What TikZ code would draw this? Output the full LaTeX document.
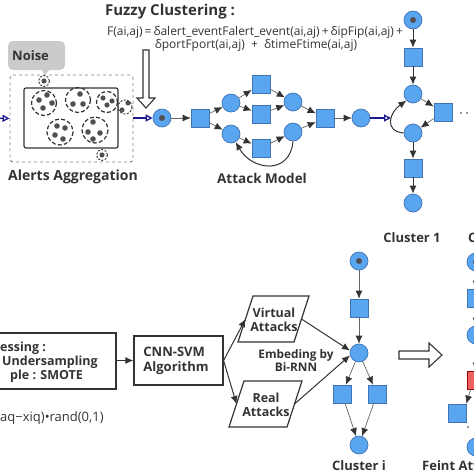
\documentclass[tikz,border=0pt]{standalone}
\usepackage{fontspec}
\setmainfont{Open Sans}
\usetikzlibrary{arrows.meta}
\definecolor{nfill}{HTML}{5AA5F0}
\definecolor{nedge}{HTML}{3F74B5}
\definecolor{navyc}{HTML}{1A1A8C}
\definecolor{lgray}{HTML}{666666}
\definecolor{dgray}{HTML}{333333}
\definecolor{noisebg}{HTML}{CBCBCB}
\definecolor{redfill}{HTML}{F06262}
\definecolor{dotc}{HTML}{505050}
\tikzset{
  place/.style={circle,draw=nedge,fill=nfill,minimum size=18pt,inner sep=0pt,line width=0.7pt},
  startp/.style={place,path picture={\fill[dotc] (path picture bounding box.center) circle (3pt);}},
  trans/.style={rectangle,draw=nedge,fill=nfill,minimum size=18pt,inner sep=0pt,line width=0.7pt},
  redtrans/.style={trans,fill=redfill,draw=red!60!black},
  arr/.style={draw=lgray,line width=0.7pt,-{Latex[length=8pt,width=7pt,color=dgray]}},
  barr/.style={draw=dgray,line width=1pt,-{Latex[length=8pt,width=7pt,color=dgray]}},
  navyarr/.style={draw=navyc,line width=1.3pt,-{Triangle[open,length=7pt,width=7pt]}},
  lab/.style={font=\bfseries\fontsize{13}{15}\selectfont,text=dgray,inner sep=0pt},
  mlab/.style={font=\bfseries\fontsize{12.5}{14}\selectfont,text=dgray,inner sep=0pt,align=center},
  formula/.style={font=\fontsize{12}{13}\selectfont,text=dgray,inner sep=0pt},
  clus/.style={draw=dgray,line width=1.2pt,dash pattern=on 4pt off 2.2pt},
  pt/.style={fill=dotc},
  hollow/.style={draw=dgray,line width=1.1pt,fill=white},
  boxn/.style={draw=dgray,line width=1.2pt,inner sep=0pt},
  paraline/.style={draw=dgray,line width=1.2pt,line join=miter}
}
\begin{document}
\begin{tikzpicture}[x=1pt,y=-1pt]
\useasboundingbox (0,0) rectangle (474,474);
\clip (0,0) rectangle (474,474);

% ---------- titles and formula ----------
\node[lab,font=\bfseries\fontsize{15}{17}\selectfont] (fz) at (170,12) {Fuzzy Clustering :};
\node[formula] (f1) at (255,32) {F(ai,aj)\,=\,δalert\_eventFalert\_event(ai,aj)\,+\,δipFip(ai,aj)\,+};
\node[formula] (f2) at (256,45) {δportFport(ai,aj) \ + \ δtimeFtime(ai,aj)};

% ---------- alerts aggregation ----------
\node[draw=gray,dashed,line width=0.9pt,rounded corners=3pt,minimum width=123pt,minimum height=87pt,inner sep=0pt] (agg) at (71.5,118.5) {};
\node[boxn,rounded corners=2pt,minimum width=94pt,minimum height=60pt] (inbox) at (71,118) {};
\node[fill=noisebg,rounded corners=5pt,minimum width=57pt,minimum height=29pt,inner sep=0pt] (noise) at (36.5,55.5) {};
\node[lab,anchor=west] (noisel) at (12,55.5) {Noise};
\fill[noisebg] (41,69) -- (50,69) -- (45,75) -- cycle;

% cluster circles
\draw[clus] (44,103) circle (12.5);
\foreach \p in {(39,100),(47,95),(52,103),(43,108)} \fill[pt] \p circle (2.8);
\draw[clus] (78,100) circle (12.5);
\foreach \p in {(80,94),(73,104),(83,104)} \fill[pt] \p circle (2.8);
\draw[clus] (107,102) circle (10.5);
\foreach \p in {(103,98),(107,105),(112,101)} \fill[pt] \p circle (2.6);
\draw[clus] (60,132) circle (13);
\foreach \p in {(57,126),(65,128),(55,135),(63,139)} \fill[pt] \p circle (2.8);
\draw[clus] (95,130) circle (13);
\foreach \p in {(93,122),(88,132),(100,133),(93,139)} \fill[pt] \p circle (2.8);
% noise points
\draw[clus,line width=0.9pt,dash pattern=on 2pt off 1.5pt] (44,81) circle (5.5);
\fill[pt] (44,81) circle (2.6);
\draw[clus,line width=0.9pt,dash pattern=on 2pt off 1.5pt] (102,155) circle (5.5);
\fill[pt] (102,155) circle (2.6);
\draw[clus,line width=0.9pt,dash pattern=on 2pt off 1.5pt] (125,107) circle (7);
\fill[pt] (128,103) circle (2.6);
\fill[pt] (122,110) circle (2.6);

\node[lab,font=\bfseries\fontsize{14}{16}\selectfont] (aggl) at (73,177) {Alerts Aggregation};
\coordinate (lin) at (-6,118);
\draw[navyarr] (lin) -- (agg.west);

% hollow down arrow
\draw[hollow,line join=miter] (143,50) -- (149,50) -- (149,98) -- (155,98) -- (146,108) -- (137,98) -- (143,98) -- cycle;

% ---------- attack model ----------
\node[startp] (s0) at (162,118) {};
\node[trans] (t1) at (200,118) {};
\node[place] (p1) at (231,103) {};
\node[place] (p2) at (231,134) {};
\node[trans] (t2) at (261,84) {};
\node[trans] (t3) at (261,114) {};
\node[trans] (t4) at (261,148) {};
\node[place] (p3) at (293,102) {};
\node[place] (p4) at (293,132) {};
\node[trans] (t5) at (325,118) {};
\node[place] (p5) at (361,118) {};
\draw[navyarr] (agg.east |- s0) -- (s0);
\draw[arr] (s0) -- (t1);
\draw[arr] (t1) -- (p1);
\draw[arr] (t1) -- (p2);
\draw[arr] (p1) -- (t2);
\draw[arr] (p1) -- (t3);
\draw[arr] (p2) -- (t4);
\draw[arr] (t2) -- (p3);
\draw[arr] (t3) -- (p3);
\draw[arr] (t4) -- (p4);
\draw[arr] (p3) -- (t5);
\draw[arr] (p4) -- (t5);
\draw[arr] (t5) -- (p5);
\draw[arr,draw=dgray,line width=1pt] (p4.south) to[out=-95,in=-60,looseness=1.5] (p2.-60);
\node[lab,font=\bfseries\fontsize{13.5}{16}\selectfont] (aml) at (262,178) {Attack Model};
\coordinate (c1in) at (391,118);
\draw[navyarr] (p5) -- (c1in);

% ---------- cluster 1 ----------
\node[startp] (c1s) at (413,20) {};
\node[trans] (c1t1) at (413,57) {};
\node[place] (c1p1) at (413,94) {};
\node[trans] (c1t2) at (443,112) {};
\node[place] (c1p2) at (413,133) {};
\node[trans] (c1t3) at (413,168) {};
\node[place] (c1p3) at (413,203) {};
\draw[barr] (c1s) -- (c1t1);
\draw[barr] (c1t1) -- (c1p1);
\draw[arr] (c1p1) -- (c1t2);
\draw[arr] (c1t2) -- (c1p2);
\draw[barr] (c1p2) -- (c1t3);
\draw[barr] (c1t3) -- (c1p3);
\draw[arr,draw=dgray,line width=1pt] (c1p2.west) to[out=175,in=215,looseness=1.6] (c1p1.-135);
\fill[dgray] (461,113) circle (0.9) (467,113) circle (0.9);
\node[lab] (c1l) at (412,238) {Cluster 1};
\node[lab,anchor=west] (cnl) at (468,238) {C};

% ---------- bottom: preprocessing ----------
\node[boxn,minimum width=122pt,minimum height=56pt] (pre) at (55,361) {};
\node[mlab,anchor=west] (pre1) at (0,348) {essing :};
\node[mlab,anchor=west] (pre2) at (2,362) {Undersampling};
\node[mlab,anchor=west] (pre3) at (10,376) {ple : SMOTE};
\node[formula,font=\fontsize{13}{14}\selectfont,anchor=west] (smf) at (0,418) {aq−xiq)•rand(0,1)};
\node[boxn,minimum width=89pt,minimum height=49pt] (cnn) at (178.5,360.5) {};
\node[mlab,align=left,font=\bfseries\fontsize{13}{15}\selectfont] (cnnl) at (176,361) {CNN-SVM\\Algorithm};
\draw[barr] (pre.east |- cnn) -- (cnn);

% parallelograms
\draw[paraline] (238,342) -- (253,296) -- (309,296) -- (294,342) -- cycle;
\coordinate (virtW) at (245.5,319);
\coordinate (virtE) at (301.5,319);
\node[mlab] (virtl) at (274,320) {Virtual\\Attacks};
\draw[paraline] (229,427) -- (244,381) -- (302,381) -- (287,427) -- cycle;
\coordinate (realW) at (236.5,404);
\coordinate (realE) at (294.5,404);
\node[mlab] (reall) at (266,405) {Real\\Attacks};
\draw[barr] (cnn.east) -- (virtW);
\draw[barr] (cnn.east) -- (realW);
\node[mlab,font=\bfseries\fontsize{11.8}{13}\selectfont] (emb) at (296,361) {Embeding by\\Bi-RNN};

% ---------- cluster i ----------
\node[startp] (cis) at (359,261) {};
\node[trans] (cit1) at (359,308) {};
\node[place] (cip1) at (359,353) {};
\node[trans] (cit2) at (342,394) {};
\node[trans] (cit3) at (377,394) {};
\node[place] (cip2) at (359,445) {};
\draw[barr] (virtE) -- (cip1.165);
\draw[barr] (realE) -- (cip1.195);
\draw[arr] (cis) -- (cit1);
\draw[arr] (cit1) -- (cip1);
\draw[arr] (cip1) -- (cit2);
\draw[arr] (cip1) -- (cit3);
\draw[arr] (cit2) -- (cip2);
\draw[arr] (cit3) -- (cip2);
\node[lab] (cil) at (359,466) {Cluster i};

% hollow right arrow
\draw[hollow,line join=miter] (399,351) -- (429,351) -- (429,343) -- (442,355) -- (429,367) -- (429,359) -- (399,359) -- cycle;

% ---------- feint attack cluster ----------
\node[startp] (fs) at (476,262) {};
\node[trans] (ft1) at (476,298) {};
\node[place] (fp1) at (476,335) {};
\node[redtrans] (fred) at (476,380) {};
\node[trans] (ft2) at (457,413) {};
\node[place] (fp2) at (476,447) {};
\draw[arr] (fs) -- (ft1);
\draw[arr] (ft1) -- (fp1);
\draw[arr] (fp1) -- (fred);
\draw[arr] (fred.-120) -- (ft2.45);
\fill[dgray] (468,427) circle (0.8);
\node[lab,anchor=west] (fal) at (422,466) {Feint Att};
\end{tikzpicture}
\end{document}
